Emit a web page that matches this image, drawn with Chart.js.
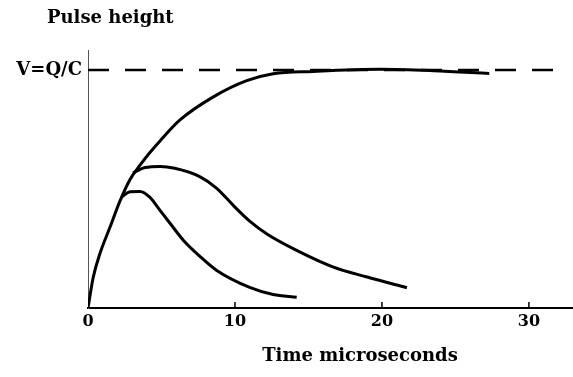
<!DOCTYPE html>
<html>
<head>
<meta charset="utf-8">
<script src="https://cdn.jsdelivr.net/npm/chart.js@4.4.0/dist/chart.umd.min.js"></script>
<style>
  body { margin: 0; background: #fff; }
  #wrap { width: 573px; height: 377px; }
</style>
</head>
<body>
<div id="wrap"><canvas id="pulseChart"></canvas></div>
<script>
// time axis ticks (microseconds)
let xTicks = [0, 10, 20, 30];

// full charge collected: rises to V = Q/C
let riseT = [0, 0.36, 0.82, 1.5, 2.18, 2.86, 3.54, 4.2, 4.9, 6.26, 8.5, 10.8, 12.6, 15.3, 19.9, 23.5, 27.3];
let riseV = [0, 0.13, 0.23, 0.34, 0.45, 0.54, 0.60, 0.652, 0.702, 0.79, 0.886, 0.955, 0.984, 0.994, 1.003, 0.997, 0.985];

// slower decay
let midT = [3.06, 3.88, 4.9, 5.9, 7.6, 8.76, 9.9, 11.0, 12.2, 14.4, 16.7, 19.0, 21.7];
let midV = [0.568, 0.59, 0.595, 0.587, 0.552, 0.503, 0.43, 0.365, 0.31, 0.236, 0.172, 0.13, 0.085];

// fast decay
let lowT = [2.3, 2.86, 3.54, 4.2, 4.9, 5.58, 6.5, 7.6, 8.76, 11.0, 12.6, 14.2];
let lowV = [0.468, 0.488, 0.49, 0.466, 0.41, 0.356, 0.284, 0.218, 0.158, 0.087, 0.057, 0.045];

// dashed V = Q/C level
let levelT = [0, 31.9];
let levelV = [1, 1];

function toPoints(xs, ys) {
  return xs.map((x, i) => ({ x: x, y: ys[i] }));
}

let serif = 'DejaVu Serif, serif';

// free-standing captions and the little upward tick marks
let extrasPlugin = {
  id: 'extras',
  afterDraw(chart) {
    let ctx = chart.ctx;
    let xs = chart.scales.x;
    ctx.save();
    ctx.fillStyle = '#000';
    ctx.textBaseline = 'middle';
    ctx.font = 'bold 18px ' + serif;
    ctx.textAlign = 'left';
    ctx.fillText('Pulse height', 47, 18);
    ctx.textAlign = 'center';
    ctx.fillText('Time microseconds', 360, 356);

    ctx.strokeStyle = '#000';
    ctx.lineWidth = 1.5;
    xTicks.forEach(v => {
      if (v === 0) return;
      let px = xs.getPixelForValue(v);
      ctx.beginPath();
      ctx.moveTo(px, xs.top);
      ctx.lineTo(px, xs.top - 6);
      ctx.stroke();
    });
    ctx.restore();
  }
};

let ctx = document.getElementById('pulseChart').getContext('2d');

let pulseChart = new Chart(ctx, {
  type: 'line',
  data: {
    datasets: [{
      data: toPoints(levelT, levelV),
      borderColor: '#000',
      borderWidth: 2.5,
      borderDash: [21, 16]
    }, {
      data: toPoints(riseT, riseV),
      borderColor: '#000',
      borderWidth: 3,
      cubicInterpolationMode: 'monotone'
    }, {
      data: toPoints(midT, midV),
      borderColor: '#000',
      borderWidth: 3,
      cubicInterpolationMode: 'monotone'
    }, {
      data: toPoints(lowT, lowV),
      borderColor: '#000',
      borderWidth: 3,
      cubicInterpolationMode: 'monotone'
    }]
  },
  options: {
    responsive: true,
    maintainAspectRatio: false,
    animation: false,
    elements: { point: { radius: 0 } },
    layout: { padding: { left: 0, top: 50, right: 0, bottom: 0 } },
    plugins: {
      legend: { display: false },
      tooltip: { enabled: false }
    },
    scales: {
      x: {
        type: 'linear',
        min: 0,
        max: 33,
        afterFit(scale) { scale.height = 69; },
        afterBuildTicks(scale) { scale.ticks = xTicks.map(v => ({ value: v })); },
        grid: { drawOnChartArea: false, drawTicks: false },
        border: { color: '#000', width: 2 },
        ticks: {
          color: '#000',
          padding: 4,
          maxRotation: 0,
          font: { family: serif, size: 16, weight: 'bold' }
        }
      },
      y: {
        min: 0,
        max: 1.084,
        afterFit(scale) { scale.width = 88; },
        afterBuildTicks(scale) { scale.ticks = [{ value: 1 }]; },
        grid: { display: false, drawTicks: false },
        border: { color: '#555', width: 1 },
        ticks: {
          color: '#000',
          padding: 6,
          callback: () => 'V=Q/C',
          font: { family: serif, size: 18, weight: 'bold' }
        }
      }
    }
  },
  plugins: [extrasPlugin]
});
</script>
</body>
</html>
